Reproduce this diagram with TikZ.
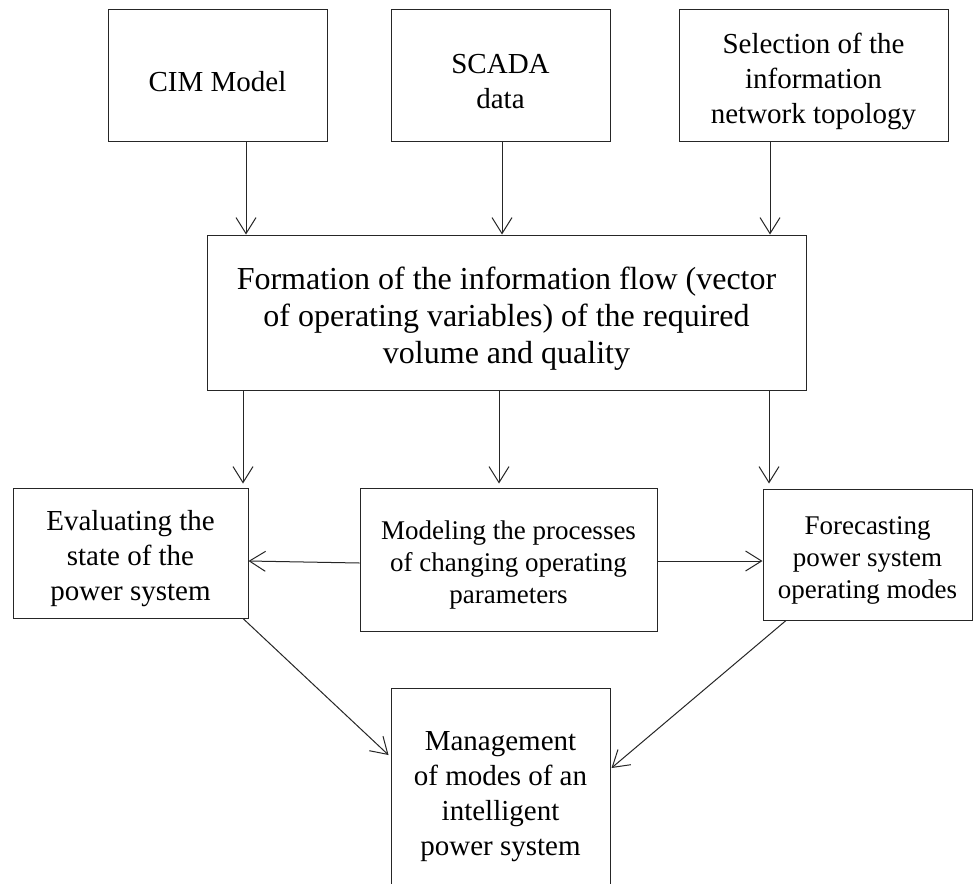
\documentclass[tikz,border=0pt]{standalone}
\usepackage{fontspec}
\setmainfont{Liberation Serif}
\usetikzlibrary{arrows.meta}
% invisible strut that lowers the first line of a box's text a little
\newcommand{\lift}{\rule{0pt}{1.1em}}
\begin{document}
\begin{tikzpicture}[x=1pt,y=-1pt,
  box/.style={draw=black!85, line width=1pt, rectangle, inner sep=0pt, align=center},
  txtA/.style={font=\fontsize{29}{35}\selectfont},
  txtB/.style={font=\fontsize{32}{37}\selectfont},
  txtC/.style={font=\fontsize{27}{32}\selectfont},
  arr/.style={draw=black!85, line width=1pt, -{Straight Barb[length=16pt,width=20pt,line width=1pt]}}]
\clip (0,0) rectangle (973,883);
\fill[white] (0,0) rectangle (973,883);

% source boxes
\node[box, txtA, minimum width=219pt, minimum height=131pt] (cim) at (217.5,75.5) {\lift CIM Model};
\node[box, txtA, minimum width=219pt, minimum height=131pt] (scada) at (500.5,75.5) {\lift SCADA\\data};
\node[box, txtA, minimum width=269pt, minimum height=131pt] (sel) at (813.5,75.5) {\lift Selection of the\\information\\network topology};

% information flow
\node[box, txtB, minimum width=599pt, minimum height=155pt] (form) at (506.5,312.5)
  {\lift Formation of the information flow (vector\\of operating variables) of the required\\volume and quality};

% processing boxes
\node[box, txtA, minimum width=235pt, minimum height=130pt] (eval) at (130.5,553) {\lift Evaluating the\\state of the\\power system};
\node[box, txtC, minimum width=297pt, minimum height=143pt] (mod) at (508.5,559.5) {\lift Modeling the processes\\of changing operating\\parameters};
\node[box, txtC, minimum width=209pt, minimum height=131pt] (fore) at (867.5,554.5) {\lift Forecasting\\power system\\operating modes};

% management
\node[box, txtA, minimum width=219pt, minimum height=204pt] (mgmt) at (500.5,790) {\lift Management\\of modes of an\\intelligent\\power system};

% inputs to the information flow
\draw[arr] ([xshift=28.5pt]cim.south) -- ([xshift=28.5pt]cim.south |- form.north);
\draw[arr] ([xshift=1.5pt]scada.south) -- ([xshift=1.5pt]scada.south |- form.north);
\draw[arr] ([xshift=-43.5pt]sel.south) -- ([xshift=-43.5pt]sel.south |- form.north);

% information flow to the processing boxes
\draw[arr] ([xshift=112.5pt]eval.north |- form.south) -- ([xshift=112.5pt,yshift=4pt]eval.north);
\draw[arr] ([xshift=-9.5pt]mod.north |- form.south) -- ([xshift=-9.5pt,yshift=4pt]mod.north);
\draw[arr] ([xshift=-98.5pt]fore.north |- form.south) -- ([xshift=-98.5pt,yshift=5pt]fore.north);

% modeling feeds evaluation and forecasting
\draw[arr] ([yshift=-3.5pt]mod.west) -- ([yshift=-8pt]eval.east);
\draw[arr] ([yshift=-1.5pt]mod.east) -- ([yshift=-6.5pt]fore.west);

% results to management
\draw[arr] ([xshift=112.5pt]eval.south) -- ([xshift=-2pt,yshift=35pt]mgmt.west);
\draw[arr] ([xshift=-81.5pt]fore.south) -- ([xshift=1pt,yshift=22pt]mgmt.east);
\end{tikzpicture}
\end{document}
